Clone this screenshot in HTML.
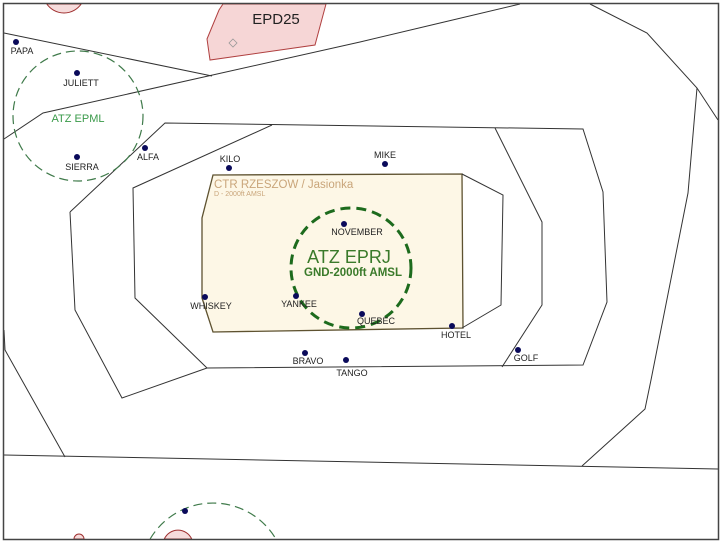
<!DOCTYPE html>
<html><head><meta charset="utf-8"><style>
html,body{margin:0;padding:0;background:#fff;width:722px;height:544px;overflow:hidden;}
svg{display:block;}
text{font-family:"Liberation Sans",sans-serif;}
.l{font-size:9px;fill:#222;text-anchor:middle;}
</style></head><body>
<svg width="722" height="544" viewBox="0 0 722 544" xmlns="http://www.w3.org/2000/svg">
<rect width="722" height="544" fill="#fff"/>
<g fill="none" stroke="#333" stroke-width="1">
 <path d="M46.8,4 A21,21 0 0 0 81.2,4 Z" fill="#f6dcdc" stroke="#a03030"/>
 <polygon points="210,60 207,39 219,10 223,4 326,4 315,45" fill="#f6d6d6" stroke="#b04040"/>
 <polyline points="4,33 212,76"/>
 <polyline points="4,139 43,113 360,42 440,23 520,4"/>
 <polyline points="590,4 647,33 697,88 718,120"/>
 <polyline points="697,88 688,193 651,380 645,409 582,466"/>
 <polyline points="4,330 5,350 65,457"/>
 <polyline points="4,455 718,469"/>
 <polyline points="70,212 165,123 583,129 603,192 607,302 583,365 207,368 122,398 75,310 70,212"/>
 <polyline points="495,128 542,222 542,305 502,367"/>
 <polyline points="272,125 133,188 135,298 207,368"/>
 <polygon points="213,175 462,174 463,328 213,332 202,298 202,218" fill="#fdf7e6" stroke="#5e5230" stroke-width="1.3"/>
 <polyline points="462,174 503,195 501,305 462,328"/>
 <circle cx="78" cy="116" r="65" stroke="#3f7a4a" stroke-width="1.2" stroke-dasharray="9,5"/>
 <circle cx="351" cy="268" r="60" stroke="#1d6b1d" stroke-width="3" stroke-dasharray="10,6"/>
 <path d="M150.1,539 A73,73 0 0 1 275.9,539" stroke="#3f7a4a" stroke-width="1.2" stroke-dasharray="9,5"/>
 <path d="M164.3,539 A15,15 0 0 1 191.7,539 Z" fill="#f6dcdc" stroke="#a03030"/>
 <path d="M74,539 A5,5 0 0 1 84,539 Z" fill="#f6dcdc" stroke="#a03030"/>
</g>
<rect x="3.5" y="3.5" width="715" height="536" fill="none" stroke="#444" stroke-width="1.5"/>
<path d="M233,39 l4,4 l-4,4 l-4,-4z" fill="none" stroke="#999" stroke-width="0.8"/>
<text x="276" y="24" font-size="15" fill="#222" text-anchor="middle">EPD25</text>
<text x="78" y="122" font-size="11" fill="#3a9a4a" text-anchor="middle">ATZ EPML</text>
<text x="214" y="188" font-size="11.5" fill="#c9a57a">CTR RZESZOW / Jasionka</text>
<text x="214" y="196" font-size="7" fill="#c9a57a">D - 2000ft AMSL</text>
<text x="349" y="263" font-size="18" fill="#3a7a2a" text-anchor="middle">ATZ EPRJ</text>
<text x="353" y="276" font-size="11.5" font-weight="bold" fill="#3a7a2a" text-anchor="middle">GND-2000ft AMSL</text>
<g fill="#0a0a5a">
<circle cx="16" cy="42" r="3"/><circle cx="77" cy="73" r="3"/><circle cx="77" cy="157" r="3"/>
<circle cx="145" cy="148" r="3"/><circle cx="229" cy="168" r="3"/><circle cx="385" cy="164" r="3"/>
<circle cx="344" cy="224" r="3"/><circle cx="205" cy="297" r="3"/><circle cx="296" cy="296" r="3"/>
<circle cx="362" cy="314" r="3"/><circle cx="452" cy="326" r="3"/><circle cx="305" cy="353" r="3"/>
<circle cx="346" cy="360" r="3"/><circle cx="518" cy="350" r="3"/><circle cx="185" cy="511" r="3"/>
</g>
<text class="l" x="22" y="54">PAPA</text>
<text class="l" x="81" y="86">JULIETT</text>
<text class="l" x="82" y="170">SIERRA</text>
<text class="l" x="148" y="160">ALFA</text>
<text class="l" x="230" y="162">KILO</text>
<text class="l" x="385" y="158">MIKE</text>
<text class="l" x="357" y="235">NOVEMBER</text>
<text class="l" x="211" y="309">WHISKEY</text>
<text class="l" x="299" y="307">YANKEE</text>
<text class="l" x="376" y="324">QUEBEC</text>
<text class="l" x="456" y="338">HOTEL</text>
<text class="l" x="308" y="364">BRAVO</text>
<text class="l" x="352" y="376">TANGO</text>
<text class="l" x="526" y="361">GOLF</text>
</svg>
</body></html>
